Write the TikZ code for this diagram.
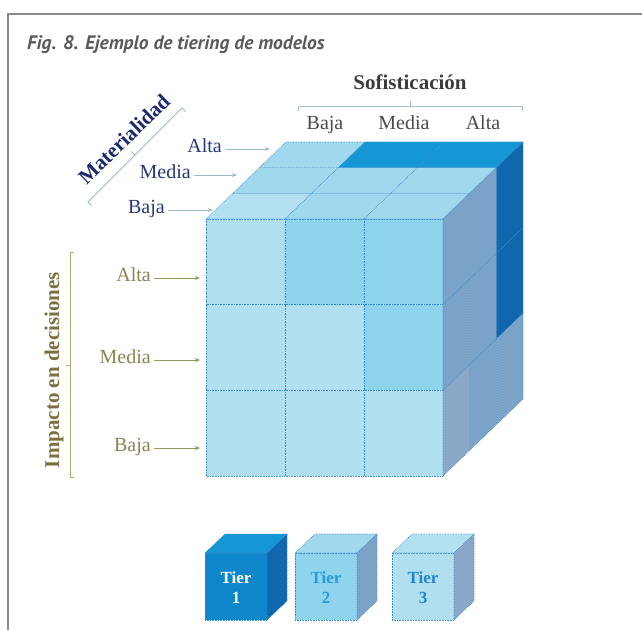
\documentclass[tikz,border=0pt]{standalone}
\usepackage{fontspec}
\setmainfont{Liberation Serif}
\newfontfamily\titlefont{PT Sans}
\usetikzlibrary{arrows.meta,positioning,calc}

\definecolor{framegray}{HTML}{8A8A8A}
\definecolor{titlegray}{HTML}{5A5A5A}
\definecolor{headgray}{HTML}{3C3C3C}
\definecolor{colgray}{HTML}{4A4A4A}
\definecolor{navy}{HTML}{1B2A6A}
\definecolor{navylbl}{HTML}{26367A}
\definecolor{olive}{HTML}{7D7040}
\definecolor{olivelbl}{HTML}{8B8255}
\definecolor{matarrowc}{HTML}{9DB9CF}
\definecolor{imparrowc}{HTML}{8E9A5A}
\definecolor{sofline}{HTML}{A5BFD3}
\definecolor{matline}{HTML}{9CBAD2}
\definecolor{impline}{HTML}{B3A574}
\definecolor{edgeblue}{HTML}{3A8AD0}
%% tier colours: front, top, side
\definecolor{front1}{HTML}{0E86CA}
\definecolor{top1}{HTML}{1597D6}
\definecolor{side1}{HTML}{1167AE}
\definecolor{front2}{HTML}{8DD4EC}
\definecolor{top2}{HTML}{A0D8EE}
\definecolor{side2}{HTML}{7AA3C7}
\definecolor{front3}{HTML}{B0DFF0}
\definecolor{top3}{HTML}{B4E1F2}
\definecolor{side3}{HTML}{8BA8C8}
\definecolor{tiertxt2}{HTML}{2A9AD8}
\definecolor{tiertxt3}{HTML}{1F86C8}

\begin{document}
\begin{tikzpicture}[x=1pt, y=-1pt,
  cell/.style={draw=edgeblue, densely dotted, line width=0.6pt},
  lbl/.style={inner sep=0pt, text height=0.66em, text depth=0pt, font=\fontsize{20}{22}\selectfont},
  head/.style={inner sep=0pt, font=\fontsize{21}{23}\selectfont\bfseries},
  matarrow/.style={draw=matarrowc, line width=0.8pt, -{Stealth[length=5pt,width=4pt]}},
  imparrow/.style={draw=imparrowc, line width=0.8pt, -{Stealth[length=5pt,width=4pt]}},
  tierlbl/.style={align=center, font=\fontsize{17}{20}\selectfont\bfseries}]
  \useasboundingbox (0,0) rectangle (642,630);
  %% Frame
  \draw[framegray, line width=1.5pt] (8,630) |- (642,14);
  \node[anchor=west, inner sep=0pt, text=titlegray, font=\titlefont\fontsize{19.5}{22}\selectfont\bfseries\itshape]
    (title) at (27,45) {Fig. 8. Ejemplo de tiering de modelos};

  %% Big cube: x = sofisticacion, y = impacto (down), z = materialidad (depth)
  \begin{scope}[shift={(206,219)}, x={(79pt,0pt)}, y={(0pt,-85.67pt)}, z={(26.67pt,25.67pt)}]
    %% Front face (materialidad baja)
    \foreach \c/\r/\t in {0/0/3,1/0/2,2/0/2,0/1/3,1/1/3,2/1/2,0/2/3,1/2/3,2/2/3}
      \draw[cell, fill=front\t] (\c,\r,0) rectangle ++(1,1,0);
    %% Top face (impacto alto)
    \foreach \c/\d/\t in {0/0/3,1/0/2,2/0/2,0/1/2,1/1/2,2/1/2,0/2/2,1/2/1,2/2/1}
      \draw[cell, fill=top\t] (\c,0,\d) -- ++(1,0,0) -- ++(0,0,1) -- ++(-1,0,0) -- cycle;
    %% Right face (sofisticacion alta)
    \foreach \r/\d/\t in {0/0/2,1/0/2,2/0/3,0/1/2,1/1/2,2/1/2,0/2/1,1/2/1,2/2/2}
      \draw[cell, fill=side\t] (3,\r,\d) -- ++(0,1,0) -- ++(0,0,1) -- ++(0,-1,0) -- cycle;
  \end{scope}

  %% Sofisticacion axis
  \node[head, text=headgray] (sofis) at (410,82) {Sofisticación};
  \draw[sofline, line width=0.8pt] (298,111) -- (298,106) -- (522,106) -- (522,111);
  \draw[sofline, line width=0.8pt] (410,106) -- (410,101);
  \node[lbl, text=colgray] (sofbaja) at (325,126) {Baja};
  \node[lbl, text=colgray] (sofmedia) at (404,126) {Media};
  \node[lbl, text=colgray] (sofalta) at (483,126) {Alta};

  %% Materialidad axis
  \node[head, text=navy, rotate=44] (mat) at (124,139) {Materialidad};
  \draw[matline, line width=0.8pt] (185.5,111.5) -- (182,108) -- (88,202) -- (91.5,205.5);
  \draw[matline, line width=0.8pt] (135,155) -- (131.5,151.5);
  \node[lbl, anchor=east, text=navylbl] (matalta) at (222,149) {Alta};
  \node[lbl, anchor=east, text=navylbl] (matmedia) at (191,175) {Media};
  \node[lbl, anchor=east, text=navylbl] (matbaja) at (165,210) {Baja};
  \coordinate (tipmatalta) at (270,149);
  \coordinate (tipmatmedia) at (237,175);
  \coordinate (tipmatbaja) at (213,210);
  \draw[matarrow] ([xshift=3pt]matalta.east) -- (tipmatalta);
  \draw[matarrow] ([xshift=3pt]matmedia.east) -- (tipmatmedia);
  \draw[matarrow] ([xshift=3pt]matbaja.east) -- (tipmatbaja);

  %% Impacto axis
  \node[head, text=olive, rotate=90] (imp) at (54,370) {Impacto en decisiones};
  \draw[impline, line width=0.8pt] (74,252) -- (70,252) -- (70,477) -- (74,477);
  \draw[impline, line width=0.8pt] (70,365) -- (66,365);
  \node[lbl, anchor=east, text=olivelbl] (impalta) at (151,278) {Alta};
  \node[lbl, anchor=east, text=olivelbl] (impmedia) at (151,360) {Media};
  \node[lbl, anchor=east, text=olivelbl] (impbaja) at (151,448) {Baja};
  \coordinate (tipimpalta) at (200,278);
  \coordinate (tipimpmedia) at (200,360);
  \coordinate (tipimpbaja) at (200,448);
  \draw[imparrow] ([xshift=3pt]impalta.east) -- (tipimpalta);
  \draw[imparrow] ([xshift=3pt]impmedia.east) -- (tipimpmedia);
  \draw[imparrow] ([xshift=3pt]impbaja.east) -- (tipimpbaja);

  %% Legend cubes
  \foreach \n/\xo/\tc in {1/205/white,2/295/tiertxt2,3/392/tiertxt3} {
    \draw[cell, fill=front\n] (\xo,553) rectangle ++(62,67);
    \draw[cell, fill=top\n] (\xo,553) -- ++(20,-19) -- ++(62,0) -- ++(-20,19) -- cycle;
    \draw[cell, fill=side\n] (\xo+62,553) -- ++(20,-19) -- ++(0,67) -- ++(-20,19) -- cycle;
    \node[tierlbl, text=\tc] (tier\n) at (\xo+31,588) {Tier\\\n};
  }
\end{tikzpicture}
\end{document}
